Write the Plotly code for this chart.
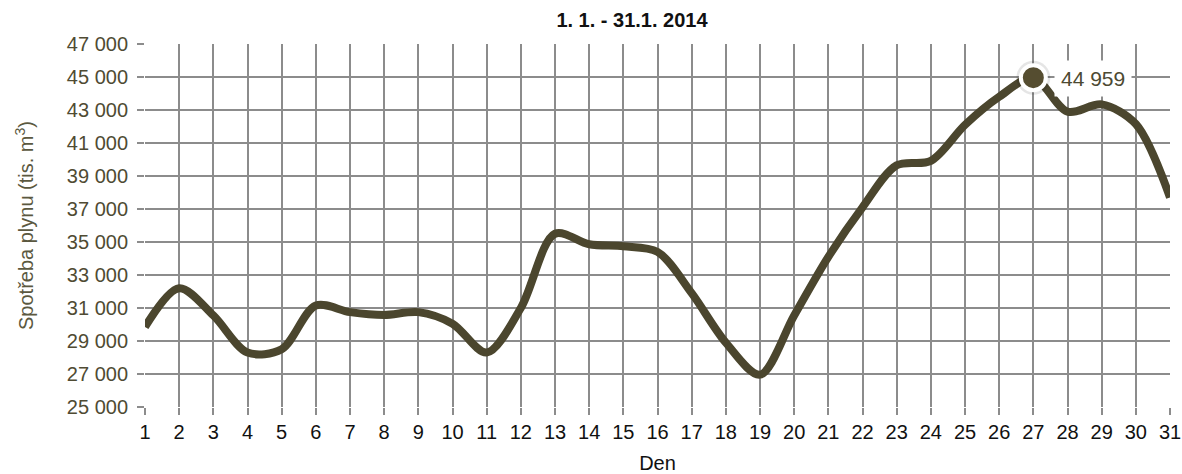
import plotly.graph_objects as go

DAYS = list(range(1, 32))
GAS = [29850, 32200, 30550, 28300, 28500, 31150, 30750, 30580, 30750, 30050,
       28300, 31000, 35500, 34860, 34740, 34400, 31900, 28900, 26960, 30550,
       34100, 37100, 39650, 39920, 42100, 43800, 44959, 42900, 43340, 42150,
       37700]
PEAK_DAY = 27
PEAK_VAL = 44959
PEAK_LABEL = "44 959"

LINE_COLOR = "#4b462e"
GRID = "#8c8c8c"
FONT = "Liberation Sans, Arial, sans-serif"

W, H = 1182, 474

fig = go.Figure()
fig.add_trace(go.Scatter(x=DAYS, y=GAS, mode="lines",
                         line=dict(color=LINE_COLOR, width=8, shape="spline",
                                   smoothing=0.9),
                         hoverinfo="skip", showlegend=False))
# soft shadow + highlighted peak marker
fig.add_trace(go.Scatter(x=[PEAK_DAY], y=[PEAK_VAL], mode="markers",
                         marker=dict(size=34, color="rgba(0,0,0,0.10)"),
                         hoverinfo="skip", showlegend=False))
fig.add_trace(go.Scatter(x=[PEAK_DAY], y=[PEAK_VAL], mode="markers",
                         marker=dict(size=25, color="#554d30",
                                     line=dict(color="white", width=4)),
                         hoverinfo="skip", showlegend=False))

fig.add_annotation(x=PEAK_DAY, y=PEAK_VAL, xref="x", yref="y",
                   text=PEAK_LABEL, showarrow=False, xanchor="left",
                   xshift=21, yshift=-1, bgcolor="white", borderpad=6,
                   font=dict(family=FONT, size=21, color="#4d4a32"))

fig.update_layout(
    width=W, height=H, autosize=False,
    margin=dict(l=145, r=12, t=44, b=67),
    paper_bgcolor="white", plot_bgcolor="white",
    separators=", ",
    font=dict(family=FONT),
    title=dict(text="<b>1. 1. - 31.1. 2014</b>", x=632 / W, xanchor="center",
               y=1 - 20 / H, yanchor="middle",
               font=dict(family=FONT, size=20, color="#111111")),
    xaxis=dict(range=[1, 31], tickmode="linear", tick0=1, dtick=1,
               automargin=False,
               showgrid=True, gridcolor=GRID, gridwidth=1.8,
               ticks="outside", ticklen=7, tickcolor=GRID, tickwidth=1.8,
               zeroline=False, showline=False,
               tickfont=dict(family=FONT, size=20, color="#111111"),
               title=dict(text="Den", standoff=13,
                          font=dict(family=FONT, size=20, color="#111111"))),
    yaxis=dict(range=[25000, 47000], tickmode="linear", tick0=25000, dtick=2000,
               tickformat=",d", automargin=False, ticklabelstandoff=5,
               showgrid=True, gridcolor=GRID, gridwidth=1.8,
               ticks="outside", ticklen=7, tickcolor=GRID, tickwidth=1.8,
               zeroline=False, showline=False,
               tickfont=dict(family=FONT, size=20, color="#4f4b33"),
               title=dict(text="Spotřeba plynu (tis. m<sup>3</sup>)", standoff=27,
                          font=dict(family=FONT, size=20, color="#5b5840"))),
)

# drop the default 8px page margin so the chart sits at the window origin
fig.write_html("out.html",
               config={"displayModeBar": False, "responsive": False},
               post_script="document.body.style.margin='0';")
